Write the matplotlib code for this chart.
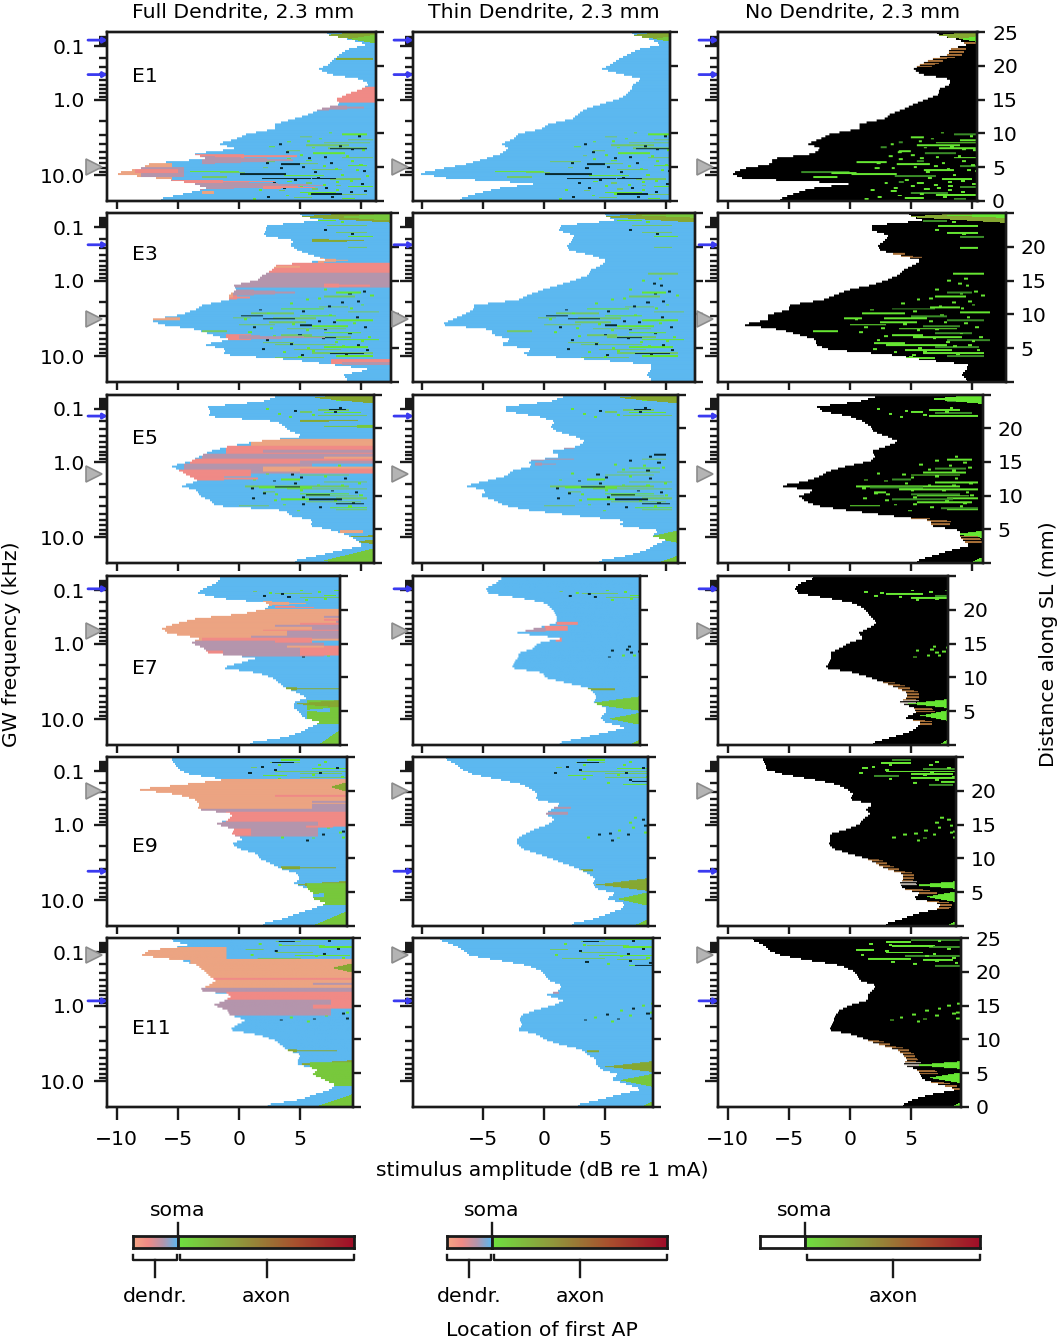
import numpy as np
import matplotlib
matplotlib.use("Agg")
import matplotlib.pyplot as plt
from matplotlib.colors import ListedColormap, LinearSegmentedColormap
from matplotlib.ticker import FixedLocator, FixedFormatter
from matplotlib.transforms import blended_transform_factory

W, H = 1062, 1339
ELECTRODES = ["E1", "E3", "E5", "E7", "E9", "E11"]
TITLES = ["Full Dendrite, 2.3 mm", "Thin Dendrite, 2.3 mm", "No Dendrite, 2.3 mm"]

# Threshold (dB re 1 mA) per band, from apex (25 mm, top) to base (0 mm, bottom)
E1_FULL = [7.2,9.1,10.5,8.9,8.3,7.8,7.4,6.5,7.5,10,10.7,10,8.9,8,8.3,6.7,5.8,4.5,3,3,.7,-.2,-1.7,-.2,-3.7,-2.7,-7.3,-8.1,-10.3,-6.4,-3.7,-2.6,-4.4,-6.4]
E1_THIN = [7.2,8.8,9.6,7.7,6.9,6.1,5.5,4.7,6.4,8,7.3,7.2,6.8,6.1,4.7,3.4,2.8,2.3,.4,-.2,-2.1,-2.5,-3.5,-2.9,-3.5,-4.8,-6.2,-8.4,-10.3,-7.8,-.6,-3.9,-5.5,-6.9]
E1_NONE = [7.1,8.8,9.6,8.1,8.1,6.6,5.8,5.2,5.8,8.2,8.2,7.3,7.3,6.3,5.2,4.4,3.3,2.8,.8,.8,-1.6,-2.4,-3.5,-2.4,-3,-6.3,-6.4,-8.7,-9.7,-8.7,.2,-3.3,-4.5,-5.7]
E3_FULL = [5,6.7,2.3,2.2,2,4.5,4.2,4.8,6.1,7.2,3.1,2.7,2,1.5,-.4,-.2,-.8,-.8,-2.9,-3.6,-4.8,-7.3,-6.3,-3.4,-2.3,-.7,-2.9,-1,-1.3,4.2,7.6,10.8,8.6,8.9]
E3_THIN = [5,5.8,1.4,1.2,2.5,2.3,1.9,2.1,3.9,5.1,4.7,3.8,3.6,2.5,1.2,-.2,-1.3,-2.1,-5.7,-5.8,-6.6,-7.6,-8.5,-4.3,-4.2,-2.7,-3.6,-.9,-2,3.9,8.8,8.8,8.4,8.8]
E3_NONE = [4.9,6,1.8,1.8,3.2,2.9,2.3,2.5,4,5.9,5.2,4.4,4,3,1.8,-.2,-1.2,-2.2,-4.9,-5,-6.7,-6.7,-8.9,-5.7,-4.2,-2.8,-2.8,-1.7,3.2,6,9.7,9.6,9.2,9.6]
E5_FULL = [3.1,2,-2.5,-2.3,-2.5,3.1,3.7,4.3,5.3,1.5,-.8,-2.3,-3.2,-3.9,-5.5,-4.8,-4.1,-3.3,-4.8,-3.4,-3.2,-2.3,-1.9,3.9,4.2,6.1,5.8,7.8,9,9.7,10.2,8.3,6.5,4.6]
E5_THIN = [1.7,.5,-3.1,-3.1,-.5,.9,.5,1,2.5,3.4,2.8,.5,1.4,-1.3,-1,-2.7,-3.1,-4.8,-6.5,-4.7,-5.2,-4,-3.2,-1,2.5,6.6,6.1,9.5,8.8,10,9,8.3,6.9,4.5]
E5_NONE = [2.2,.8,-2.7,-2.2,0,1.1,1.7,1.9,3,4,3,1.8,2.1,1.7,-.2,-1.7,-2.4,-3.5,-5.8,-2.8,-4.2,-3.7,-2.7,0,3.3,6.7,6.6,9,9,9.3,9.9,8.2,6.9,5.5]
E7_FULL = [-1.5,-1.9,-2.9,-3.4,-1.4,2.6,2.3,.5,-3.4,-5.1,-6.3,-5.8,-3.2,-3.9,-2.9,-2.5,1.5,.1,-1.4,1.5,2.8,3.3,3.8,4.8,5.6,4.5,4.5,5,5.3,6.7,5.8,5,3.7,.9]
E7_THIN = [-3.5,-4,-4.8,-4.6,-1.8,.1,.5,.9,1,.9,-.7,-2.4,1.4,-.5,-.9,-2.1,-2.2,-2.5,-2.7,-.2,.1,1.7,3.5,4,4.2,4,5,5,4.5,5,6.6,5,3.1,1.2]
E7_NONE = [-3,-4.1,-4.5,-4.2,-1.7,.4,1.1,1.5,1.9,2.2,1.5,.7,1.1,-.1,-.8,-1.6,-1.5,-1.7,-2,.4,1.7,2.8,3.9,4.7,4.7,4.1,5.2,5.5,4.5,5.9,5.5,4.8,3.4,1.9]
E9_FULL = [-5.5,-5.2,-4.9,-4,-1.1,-4.5,-8.4,-5.1,-3.6,-3.2,-3.4,-.4,-.8,-1.9,-.4,-.6,.4,-.6,0,1.5,1.7,2.7,3.4,4.8,5,4.5,5.6,6.1,6.1,7.2,6.1,4.8,3.7,2]
E9_THIN = [-8,-7.2,-6.7,-5.8,-3.7,-1.8,-1,-.5,-.7,1.4,.6,.1,.9,.4,-.7,-1.6,-2.2,-2.2,-1.8,-.5,.6,1.7,2.8,3.6,4.2,4,4.3,5.9,5.1,6.6,6.4,5.3,4.2,2.3]
E9_NONE = [-7.1,-6.9,-6.9,-5.4,-3,-1.1,-.2,.3,0,1.9,1.3,1.7,1.1,.8,-.2,-1.6,-1.6,-1.7,-1.3,0,1.4,2.2,3,4.3,4.4,4.1,4.4,5.8,5.2,7.4,7.3,5.5,4.4,3]
E11_FULL = [-5.5,-4.1,-7.4,-8,-4.7,-3.4,-2.9,-2.5,-1.9,-2.5,-3.3,-.6,-1.1,-2.1,-1,-.8,.5,-.2,-.8,1.5,2.8,3.4,3.8,5,4.8,4.8,6.4,6,6.9,7.8,7.5,6.1,5,2.3]
E11_THIN = [-8.5,-7.3,-6.6,-6.1,-3.7,-1.4,-.3,.1,.4,1.4,1.3,.1,1.6,.8,-.7,-1.8,-2,-1.8,-2.2,-.5,.1,1.4,3.1,3.6,4.3,4.3,4.7,6.1,5.5,6.9,8,6.1,4.6,2.8]
E11_NONE = [-7.9,-7,-6.6,-5.6,-3.3,-.8,.2,.6,.8,2.1,1.9,1.5,1.5,0,-.8,-1.2,-1.3,-1.5,-1.7,.3,1.4,2.5,3.9,4.4,4.7,4.4,5.5,5.8,6,7.4,8.8,6.6,5.2,4.4]

# Axon streaks: band, start dB, end dB
E1_STREAKS = [(20.5,8.5,10.5),(21,5,6),(21.6,9,11),(22,4,4.3),(22.2,7,10.8),(22.7,5.5,9),(23,2.5,3),(23.3,7.3,10.5),(23.8,4,5),(24.3,6.1,8.7),(24.8,3.2,3.5),(25.2,8.5,11),(25.8,5.5,6),(26,.5,3),(26.4,3.8,6.5),(26.8,9,10.5),(27.2,2,2.4),(27.6,6,8.5),(28,-4,0),(28.2,-1.5,.5),(28.4,.1,3.8),(28.8,3.7,7),(29.1,-3,-1),(29.5,7.5,10),(30,4,4.4),(30.3,5.5,6),(30.8,8,8.4),(31,9,11),(31.5,6,6.5),(31.8,3.3,3.8),(32.2,5,8),(32.6,7,10.5),(33.2,4.5,6),(33.4,8.5,9.5)]
E3_STREAKS = [(1.4,6,8),(2.4,7.2,10.5),(3.8,8,10.5),(4.6,9,11),(6.8,9,10.5),(12.1,8.5,11),(15.9,8,10),(16.7,7,9.5),(18.8,6.6,9),(19.2,3.5,7),(19.8,9,11.5),(20.1,1,4.5),(20.6,5,8),(21,-.5,1),(21.1,2.8,6.3),(21.5,8,11),(21.9,2.5,5.5),(22.4,0,3),(22.7,6,9),(23.2,4,8.8),(23.7,-3,-1),(24,7,10),(24.5,3.5,6),(24.9,5.2,9.2),(25.4,8,11.5),(26,2,4.5),(26.4,3,8),(26.9,7,10.6),(27.4,4.5,8.4),(28.1,6,11),(28.7,8,11),(29,3,7)]
E5_STREAKS = [(1.2,8,10),(3.1,6.5,9),(3.5,5,6),(3.6,7,10),(4.2,6.5,10.5),(13,8,10),(14.8,7,9.5),(15.6,6,9.5),(16.2,5,9),(17.1,3.5,5),(17.6,7,10.5),(18.5,.5,9),(18.7,1.7,6),(19,4,10.5),(19.6,2,3),(20,5,9),(20.4,5.5,9.8),(20.9,8,10.5),(21.1,3.5,8.5),(21.6,5.5,10),(22.4,0,2.5),(22.8,7.5,10.5),(23.2,8,10.5)]
E7_STREAKS = [(2.8,7.8,9.5),(3,1.2,1.5),(3.4,3,6),(3.8,7,8),(4.2,5,9)]
E9_STREAKS = [(.5,3.5,5),(1,2.6,5),(2,1,1.5),(2.2,6,9),(2.8,3,9),(3.2,5,8.5),(3.6,2,4),(4,5,9),(4.8,7.5,8.8),(5.4,6.5,8.5)]
E11_STREAKS = [(.2,5,9),(.6,3,5),(1.4,3.5,7),(1.7,6.5,9.4),(2.2,.5,2),(2.8,3,6),(3.4,4.5,9),(4,1.5,5),(4.2,6,8.5),(5.4,7,9.1)]

# Short black dashes (blue panels only)
E1_DASHES = [(28.5,.1,3.9),(29.4,1.9,5.9),(32.5,5.7,8.5),(29.4,6,8),(26.5,3.5,5),(23.4,7.5,10.5)]
E3_DASHES = [(20.6,.2,2),(21.2,2,4.6),(25,6,8),(28.2,7.5,10.3),(22.5,5,6)]
E5_DASHES = [(3,7.4,8.8),(18.6,3,5),(20.2,5.5,7.5),(21.1,5.8,8.5),(22,8,10.3),(12.1,9,10)]
E7_DASHES = [(.5,8.5,9.3)]
E9_DASHES = [(1,2.7,4.5),(4.8,7.2,8.8)]
E11_DASHES = [(.6,3.2,4.5),(5.4,7.5,9.4)]

# Specks: band, dB
E1_SPECKS = [(21.4,6.6),(22.5,3.3),(23.2,6),(23.5,9.2),(24.6,5),(25.1,7),(25.5,4),(26.2,7.5),(26.6,9.9),(27,5.2),(27.4,7.9),(27.9,10.2),(28.6,8.4),(29.3,6.4),(29.8,9.1),(30.2,2.8),(30.6,6.9),(31.2,3.6),(31.6,8),(31.9,10.3),(32.5,5.7),(33,2.3),
             (20.2,7.4),(20.9,9.8),(21.8,5.6),(22.9,8.2),(23.7,10.1),(24.1,3.9),(24.9,8.8),(25.3,5.7),(25.9,9.2),(26.3,2.2),(26.9,6.9),(27.3,3.4),(27.7,9.6),(28.1,6.2),(28.9,10.4),(29.6,4.5),(30.1,8),(30.4,10),(30.9,5),(31.3,7.1),(31.7,1.7),(32.1,9.1),(32.8,3.9),(33.1,7.6),(33.5,1.2)]
E3_SPECKS = [(13.5,8),(14.5,9.5),(15.2,7),(16.2,9),(17.3,5.5),(17.9,8.4),(18.4,10),(19.4,1.7),(20.4,7.4),(21.7,6.5),(22.1,9.4),(22.9,1.2),(23.5,5.5),(24.2,9),(24.7,2.8),(25.2,6.8),(25.7,10),(26.2,4.2),(26.7,8.5),(27.2,1.9),(27.7,6),(28.4,5.1),(13,9.4),(15.6,10.2),(1.6,8.4),(3.2,7),
             (17,6.5),(17.6,9.7),(18.1,4.2),(18.6,7.3),(19,9.1),(19.6,5.2),(20,2.3),(20.8,9.6),(21.3,.4),(21.8,7.7),(22.3,4.4),(22.8,10.3),(23,2.6),(23.4,7),(23.9,.8),(24.4,4.9),(24.8,10.6),(25.5,2.2),(25.9,7.9),(26.5,9.7),(27,5.6),(27.5,10.4),(27.9,3.6),(28.3,8.7),(28.9,4.9),(14,8.9),(16.5,10.8),(4,9.2)]
E5_SPECKS = [(3.8,3.2),(3.2,4.5),(4,6),(2.6,8.2),(14.2,8.1),(13.6,9.3),(15,6.4),(16,4.3),(16.5,7),(17.4,2.8),(18.2,6.4),(19.4,7.6),(20.1,3),(20.7,5.2),(21.4,7.8),(22.1,5.2),(22.5,9),(19.6,9.5),(17.8,9.8),(16.9,8.6),(14.6,9.7),(12.5,8.6),
             (2.9,2.2),(3.4,7.8),(4.4,4.1),(13.2,7),(14,5.7),(15.3,8.4),(15.9,2.2),(16.7,5),(17.2,1.2),(17.9,4.5),(18.3,8.4),(18.9,1),(19.3,5),(19.9,2),(20.3,9.9),(20.8,1.1),(21.3,2.9),(21.8,9.3),(22.2,3.6),(22.7,6.6),(23.4,4.8)]
E7_SPECKS = [(3.2,2.5),(3.5,3.5),(2.8,5),(4,4),(4.4,7),(15,7.6),(15.5,8.3),(14.6,6.6),(15.8,7.2),(16.2,5.2),(14.2,7.9),(15.2,7),(3,6.5),(3.9,2),(4.6,5.4),(14.8,5.4),(15.9,6.3),(14.1,6.8)]
E9_SPECKS = [(1.4,3.2),(2.4,2.9),(3.5,6),(3.1,6.6),(1.5,6.5),(2,8),(3.8,8.4),(4.4,7),(5,5.2),(4.9,8.6),(13,7),(12.4,8),(14,7.2),(15.5,6.8),(16.2,6),(16.6,5.5),(15,8.2),(14.8,8.5),(16,8.5),(1.8,1.8),(.8,7),(3,.8),(4.2,3.2),(13.6,8.2),(14.6,6.1),(15.4,4.4),(16.1,3.5),(15.2,5.3),(12,7.4)]
E11_SPECKS = [(1.2,3.2),(2.4,2.9),(3.5,6.2),(3.1,6.8),(1.5,6.5),(2,8),(3.8,8.4),(4.4,7),(5,5.2),(4.9,8.6),(13.5,8),(14,7.2),(15.5,7),(16.2,6),(16.6,5.5),(15,8.4),(14.8,8.7),(16,8.7),(1,1.6),(.4,7.2),(3.3,.9),(4.7,3.4),(14.4,6.2),(15.2,5.1),(15.9,4.1),(16.4,3.3),(13,8.8)]

# Regions of first-AP location: kind, band from, band to, dB from, dB to, shape
E1_FULL_Z = [("olive",-.5,2,6.5,12,"<"),("green",.2,2.6,9,12,"<"),("olive",5.2,5.5,8,11,"R"),("pink",11,14.2,7,12,"R"),("mauve",14.5,15.9,6,11,">"),("pink",24.5,25.5,-4,7,">"),("mauve",25,26.6,-3,5.5,">"),("salmon",26.4,29.8,-11,-5.5,"R"),("mauve",27.2,29.2,-8,-4.5,"R"),("pink",27.6,28.4,-8.5,-5,"R"),("mauve",29.7,32,-6.5,7.5,">"),("pink",29.7,30.5,-5.5,3,">"),("pink",30.9,31.6,2,7,">"),("salmon",32,32.5,-3,-2,"R")]
E1_THIN_Z = [("olive",-.5,2,6.5,12,"<"),("green",.2,2.6,9,12,"<")]
E1_NONE_Z = [("olive",-.5,2,6.5,12,"<"),("bright",.2,2.6,9,12,"<"),("brown",3,7,0,1.2,"E"),("brown",2,2.5,0,1,"E")]
E3_FULL_Z = [("olive",-.5,2,4.5,13,"<"),("green",0,1.6,8,13,"<"),("olive",5.2,5.9,6,11,">"),("salmon",9,10,6.5,9,">"),("pink",10,13.2,2,13,"R"),("mauve",12,15,-1,13,"R"),("salmon",10.6,10.9,2,5,"R"),("pink",14.2,15,7,12,">"),("mauve",15,17,-3,5.5,">"),("pink",16,18,-4,1.5,">"),("salmon",15,17,-2,-.5,"R"),("pink",24.5,25.5,-1,1,"R"),("mauve",24.6,25.5,0,8,">"),("pink",29.5,30.3,7.6,13,"R"),("mauve",30,30.5,8.5,13,"R"),("salmon",21,21.6,-7.5,-4.8,"R")]
E3_THIN_Z = [("olive",-.5,2,4.5,13,"<"),("green",0,1,8,13,"<")]
E3_NONE_Z = [("olive",-.5,2,4.5,13,"<"),("bright",0,1,8,13,"<"),("brown",8,9,0,1,"E")]
E5_FULL_Z = [("olive",-.5,2,6,11.5,"<"),("olive",5.1,5.6,5,11,">"),("green",6.2,6.8,7,11,"<"),("salmon",9,10.5,1,12,"R"),("pink",10.5,12,-1,12,"R"),("mauve",12,13,-3,12,"R"),("pink",13,14,-4,12,"R"),("mauve",14,16,-4.5,6,"R"),("pink",15.2,16.5,-5,1,"R"),("salmon",14.6,15.6,2,11.5,"R"),("pink",15,16,5,11.5,"R"),("pink",16.5,17.5,-4,3,">"),("mauve",11.2,11.7,2,12,"R"),("salmon",12.6,12.9,7,12,"R"),("mauve",13.4,14,5,12,"R"),("salmon",27.4,28,8.3,10.2,"R"),("olive",28.4,28.9,8.5,12,"<"),("olive",29,30.5,9.5,12,"<"),("green",31,36,7,11.2,"<")]
E5_THIN_Z = [("olive",-.5,2,6,11.5,"<"),("mauve",10.5,11.2,.5,2.8,">"),("mauve",12.8,13.4,-1.3,2.5,">"),("mauve",13.8,14.4,-.7,1,">"),("green",27.5,30,8.5,11,"<"),("green",32.5,36,9,11,"<")]
E5_NONE_Z = [("bright",0,2,6.5,11,"<"),("brown",25,26.3,0,1.6,"E"),("bright",27.5,29,8.5,11,"<"),("brown",28.6,30,0,1.5,"E"),("bright",32.7,36,9.5,11,"<")]
E7_FULL_Z = [("salmon",5,6,2,5.5,">"),("pink",6,6.5,3,7,">"),("salmon",6.6,13,-7,12,"R"),("mauve",8,8.3,7,12,"R"),("pink",8.6,9,7,12,"R"),("mauve",9,9.5,8,12,"R"),("pink",9.4,9.7,5,12,"R"),("mauve",9.8,10.2,3,12,"R"),("mauve",10,11,6,12,"R"),("pink",10.8,11,2,12,"R"),("mauve",11,12,4,12,"R"),("mauve",12,12.5,1,12,"R"),("pink",12.5,13.5,-3,6,"R"),("mauve",13,16.2,-4,3,"R"),("mauve",13.5,16.2,-3.5,7,"R"),("pink",14,16,5,12,"R"),("salmon",14.1,14.4,4,7,"R"),("pink",15,16.3,-3,-1.3,"R"),("olive",22.4,23,3,8.3,">"),("green",25,29.8,5.6,8.3,"R"),("olive",25,26.5,4.5,8.3,"<"),("blue",26.6,27.5,5,7.5,"<"),("green",31,37,6.5,8.3,"<")]
E7_THIN_Z = [("pink",9.2,9.8,1,2.7,"R"),("pink",10,11,0,1.9,"R"),("mauve",10.5,11.2,-2.4,.1,"R"),("pink",12.5,13.2,.9,1.4,"R"),("olive",22.6,23,3.5,8,">"),("green",24.2,27.2,3.5,7.9,"<"),("green",27.5,30,5.2,7.9,"<"),("green",32.8,36,6.5,7.9,"<")]
E7_NONE_Z = [("brown",21.5,25,0,1,"E"),("lgray",25,25.8,0,1.3,"E"),("bright",24.8,26.6,4.8,8.1,"<"),("brown",26.5,27.3,0,1.5,"E"),("bright",27,29.2,5.8,8.1,"<"),("brown",29,30,0,1,"E"),("bright",32.8,36,7,8.1,"<")]
E9_FULL_Z = [("salmon",4.5,10.5,-9,12,"R"),("olive",5,7,7.5,8.9,"<"),("pink",7.6,8,3,12,"R"),("mauve",8.8,9.1,6,12,"R"),("mauve",9.5,10.5,6,12,"R"),("mauve",10.5,12,-3.5,12,"R"),("pink",11,14,-1,12,"R"),("mauve",13,16,-2,6.5,"R"),("pink",13.7,14.2,5.5,11,">"),("pink",14.5,15.8,-1,1,"R"),("olive",22,22.6,3.5,8,">"),("olive",25,26.4,4,8.9,"<"),("green",25.4,29.8,5.6,8.9,"R"),("blue",27.4,28.3,5,7,"<"),("green",31,37,6,8.9,"<")]
E9_THIN_Z = [("mauve",10,10.4,.5,2.2,"R"),("mauve",11,11.5,.2,2,"R"),("olive",22.6,23,3,5,">"),("olive",24.4,27,4.3,8.6,"<"),("green",27.2,30,6,8.6,"<"),("green",32.6,36,7,8.6,"<")]
E9_NONE_Z = [("brown",20.5,25,0,.9,"E"),("lgray",25,25.8,0,1.3,"E"),("bright",25,26.6,5.2,8.9,"<"),("brown",26.6,27.5,0,1.5,"E"),("bright",27,29.3,6.2,8.9,"<"),("brown",29,30.5,0,1,"E"),("bright",32.8,36,7.5,8.9,"<")]
E11_FULL_Z = [("salmon",1.8,4.4,-9,-1,"R"),("salmon",4.3,10,-4,12,"R"),("olive",5,7,7.5,9.4,"<"),("pink",8,8.4,-3,12,"R"),("mauve",9,9.4,6,12,"R"),("mauve",10,11,-3.5,12,"R"),("pink",10.8,14,-1,12,"R"),("mauve",12.4,15.6,-2,7.5,"R"),("pink",13.5,14.2,6,12,"R"),("olive",22.4,23,3,8,">"),("olive",24.6,26.2,4.5,9.4,"<"),("green",25,29.8,5.8,9.4,"R"),("green",31.3,37,6,9.4,"<")]
E11_THIN_Z = [("mauve",10.8,11.2,0,2.5,">"),("olive",22.6,23,3.5,5.5,">"),("olive",24.8,27,5,9,"<"),("green",27.3,30,6.2,9,"<"),("green",32.8,36,7.5,9,"<")]
E11_NONE_Z = [("brown",20.5,25,0,.9,"E"),("lgray",25,25.8,0,1.3,"E"),("bright",24.8,26.4,5.2,9.3,"<"),("brown",26.4,27.3,0,1.5,"E"),("bright",27,29.3,6.5,9.3,"<"),("brown",29,30.5,0,1,"E"),("bright",32.8,36,8,9.3,"<")]

THRESHOLDS = [[E1_FULL,E1_THIN,E1_NONE],[E3_FULL,E3_THIN,E3_NONE],[E5_FULL,E5_THIN,E5_NONE],[E7_FULL,E7_THIN,E7_NONE],[E9_FULL,E9_THIN,E9_NONE],[E11_FULL,E11_THIN,E11_NONE]]
ZONES = [[E1_FULL_Z,E1_THIN_Z,E1_NONE_Z],[E3_FULL_Z,E3_THIN_Z,E3_NONE_Z],[E5_FULL_Z,E5_THIN_Z,E5_NONE_Z],[E7_FULL_Z,E7_THIN_Z,E7_NONE_Z],[E9_FULL_Z,E9_THIN_Z,E9_NONE_Z],[E11_FULL_Z,E11_THIN_Z,E11_NONE_Z]]
STREAKS = [E1_STREAKS,E3_STREAKS,E5_STREAKS,E7_STREAKS,E9_STREAKS,E11_STREAKS]
DASHES = [E1_DASHES,E3_DASHES,E5_DASHES,E7_DASHES,E9_DASHES,E11_DASHES]
SPECKS = [E1_SPECKS,E3_SPECKS,E5_SPECKS,E7_SPECKS,E9_SPECKS,E11_SPECKS]

# Electrode site (mm along SL) and neural best-place arrows (mm)
ELECTRODE_MM = [5.0, 9.3, 13.2, 16.9, 20.0, 22.5]
ARROW_MM = [[23.8, 18.7], [20.3], [21.8], [23.1], [8.1], [15.7]]

# Layout in reference pixels
ROW_Y = [(32,201),(213,382),(394.5,563),(576,745),(757,926),(938,1107)]
COL_LEFT = [107, 413, 718]
COL_ZERO = [238.7, 544, 849.7]
COL_RIGHT = [[376,670,977.5],[391,695,1006],[374,678,983],[340,640,948],[347,648,956],[353,653,961]]
PX_PER_DB = 12.2
LABEL_Y = [77, 255, 438, 669, 847, 1028]

PALETTE = {"white":"#ffffff","blue":"#5cb8f0","salmon":"#eca482","pink":"#f08a86","mauve":"#b495ac",
           "olive":"#86a832","green":"#78c83c","bright":"#66e632","mid":"#72c868","dark":"#0a2a30",
           "black":"#000000","brown":"#a87038","dgreen":"#3a8c28","lgray":"#b8b0a8"}
NAMES = list(PALETTE)
IDX = {n:i for i,n in enumerate(NAMES)}
CMAP = ListedColormap([PALETTE[n] for n in NAMES])

FS = 14.7
INK = "#1a1a1a"
plt.rcParams["font.family"] = "DejaVu Sans"
fig = plt.figure(figsize=(W/100, H/100), dpi=100)

def px_axes(x0, x1, y0, y1):
    return fig.add_axes([x0/W, 1-y1/H, (x1-x0)/W, (y1-y0)/H])

def f_to_mm(f):
    return 24.9 - 11.8*np.log10(np.asarray(f)*1000/165.4 + 0.88)

MAJOR_F = [0.1, 1.0, 10.0]
MINOR_F = [.04,.05,.06,.07,.08,.09,.2,.3,.4,.5,.6,.7,.8,.9,2,3,4,5,6,7,8,9]

def panel_matrix(thr, zones, streaks, dashes, specks, xlim, nx, col):
    ny = 170
    xs = xlim[0] + (np.arange(nx)+.5)*(xlim[1]-xlim[0])/nx
    rs = (np.arange(ny)+.5)/5.0
    # edge drawn as a stepped line through the band readings
    band_centres = np.arange(len(thr)) + .5
    step_rs = (np.arange(ny)//2*2 + 1)/5.0
    env = np.interp(step_rs, band_centres, thr)
    inside = xs[None,:] >= env[:,None]
    base = IDX["black"] if col == 2 else IDX["blue"]
    lab = np.where(inside, base, IDX["white"])
    def paint(r0, r1, a, b, name):
        i0, i1 = int(r0*5), max(int(r1*5), int(r0*5)+1)
        j = (xs >= a) & (xs <= b)
        sub = lab[i0:i1, :]
        sub[:, j] = np.where(sub[:, j] != IDX["white"], IDX[name], IDX["white"])
    for k, (r, a, b) in enumerate(streaks):
        if col == 2:
            paint(r, r+.4, a, b, "bright" if k % 3 else "dgreen")
        else:
            paint(r, r+.3, a, b, "mid" if k % 3 else "bright")
    if col != 2:
        for r, a, b in dashes:
            paint(r, r+.3, a, b, "dark")
    for k, (r, x) in enumerate(specks):
        if col == 2:
            paint(r, r+.4, x, x+.3, "bright")
        else:
            paint(r, r+.4, x, x+.25, "dark" if k % 2 else "bright")
    R, X = np.meshgrid(rs, xs, indexing="ij")
    ENV = env[:, None]
    for name, r0, r1, a, b, shape in zones:
        rc, h = (r0+r1)/2, (r1-r0)/2
        m = (R >= r0) & (R <= r1) & inside
        if shape == "E":      # thin rim along the edge, on alternate rows
            m &= (X <= ENV + (b-a)) & ((np.arange(ny)[:, None] % 3) != 0)
        else:
            m &= (X >= a) & (X <= b)
            if shape == ">":
                m &= np.abs(R-rc) <= h*(b-X)/(b-a)
            elif shape == "<":
                m &= np.abs(R-rc) <= h*(X-a)/(b-a)
        lab[m] = IDX[name]
    return lab

for row, (y0, y1) in enumerate(ROW_Y):
    for col in range(3):
        x0, x1 = COL_LEFT[col], COL_RIGHT[row][col]
        ax = px_axes(x0, x1, y0, y1)
        xlim = ((x0-COL_ZERO[col])/PX_PER_DB, (x1-COL_ZERO[col])/PX_PER_DB)
        lab = panel_matrix(THRESHOLDS[row][col], ZONES[row][col], STREAKS[row], DASHES[row], SPECKS[row], xlim, int(x1-x0), col)
        ax.imshow(lab, extent=[xlim[0], xlim[1], 0, 25], origin="upper", aspect="auto",
                  cmap=CMAP, vmin=-.5, vmax=len(NAMES)-.5, interpolation="antialiased", zorder=1)
        ax.set_xlim(*xlim); ax.set_ylim(0, 25)
        for s in ax.spines.values():
            s.set_linewidth(1.7); s.set_color(INK); s.set_zorder(5)
        xt = [t for t in [-10,-5,0,5,10] if xlim[0] < t < xlim[1]]
        if row == 5 and col == 1:
            xt = [-5,0,5]
        ax.set_xticks(xt)
        if row == 5:
            ax.set_xticklabels([str(t).replace("-", "\u2212") for t in xt], fontsize=FS)
            ax.tick_params(axis="x", length=9.4, width=1.7, pad=7, color=INK)
        else:
            ax.set_xticklabels([])
            ax.tick_params(axis="x", length=6, width=1.7, color=INK)
        ax.yaxis.set_major_locator(FixedLocator(f_to_mm(MAJOR_F)))
        ax.yaxis.set_minor_locator(FixedLocator(f_to_mm(MINOR_F)))
        if col == 0:
            ax.yaxis.set_major_formatter(FixedFormatter([str(f) for f in MAJOR_F]))
        else:
            ax.set_yticklabels([])
        ax.tick_params(axis="y", which="major", length=9.4, width=1.7, labelsize=FS, pad=6.5, color=INK)
        ax.tick_params(axis="y", which="minor", length=6, width=1.7, color=INK)
        ax2 = ax.twinx()
        ax2.set_ylim(0, 25)
        rt = [0,5,10,15,20,25]
        ax2.set_yticks(rt)
        if col == 2 and row in (0, 5):
            ax2.set_yticklabels([str(t) for t in rt], fontsize=FS)
        elif col == 2:
            ax2.set_yticklabels(["", "5", "10", "15", "20", ""], fontsize=FS)
        else:
            ax2.set_yticklabels([])
        ax2.tick_params(axis="y", length=6, width=1.7, pad=4.5, color=INK)
        for s in ax2.spines.values():
            s.set_linewidth(1.7); s.set_color(INK)
        tr = blended_transform_factory(ax.transAxes, ax.transData)
        fx = -13.5/(x1-x0)
        ax.plot([fx], [ELECTRODE_MM[row]], marker=">", ms=12, mfc="#b4b4b4", mec="#8c8c8c", mew=1.2,
                transform=tr, clip_on=False, zorder=6, ls="none")
        for a in ARROW_MM[row]:
            ax.annotate("", xy=(0.002, a), xycoords=tr, xytext=(-19/(x1-x0), a), textcoords=tr,
                        arrowprops=dict(arrowstyle="-|>,head_length=0.25,head_width=0.15", color="#3a3af0", lw=2, shrinkA=0, shrinkB=0),
                        annotation_clip=False, zorder=7)
        if row == 0:
            fig.text([243,544,853][col]/W, 1-13/H, TITLES[col], fontsize=FS, ha="center", va="center")
    fig.text(132/W, 1-LABEL_Y[row]/H, ELECTRODES[row], fontsize=FS, ha="left", va="center")

fig.text(12/W, 1-644/H, "GW frequency (kHz)", rotation=90, fontsize=FS, ha="center", va="center")
fig.text(1048/W, 1-644/H, "Distance along SL (mm)", rotation=90, fontsize=FS, ha="center", va="center")
fig.text(542/W, 1-1170/H, "stimulus amplitude (dB re 1 mA)", fontsize=FS, ha="center", va="center")
fig.text(542/W, 1-1330/H, "Location of first AP", fontsize=FS, ha="center", va="center")

# Location colourbars
DENDRITE_COLORS = ["#f4a684", "#f08a86", "#b495ac", "#5cb8f0"]
AXON_COLORS = ["#6ee040", "#8f9a3c", "#a8502e", "#a00c28"]
dcmap = LinearSegmentedColormap.from_list("d", DENDRITE_COLORS)
acmap = LinearSegmentedColormap.from_list("a", AXON_COLORS)
grad = np.linspace(0, 1, 256)[None, :]
BARS = [(133, 178, 354, True), (447, 492, 667, True), (760, 805, 980, False)]
overlay = fig.add_axes([0, 0, 1, 1]); overlay.set_xlim(0, W); overlay.set_ylim(H, 0); overlay.axis("off")
for l, m, r, has_d in BARS:
    a1 = px_axes(l, m, 1236, 1248)
    if has_d:
        a1.imshow(grad, cmap=dcmap, aspect="auto")
    a2 = px_axes(m, r, 1236, 1248)
    a2.imshow(grad, cmap=acmap, aspect="auto")
    for a in (a1, a2):
        a.set_xticks([]); a.set_yticks([])
        for s in a.spines.values():
            s.set_linewidth(2); s.set_color(INK)
    overlay.plot([m, m], [1223, 1248], color=INK, lw=1.7)
    overlay.text(m, 1210.5, "soma", fontsize=FS, ha="center", va="center")
    for a_, b_, txt, show in [(l, m-1.5, "dendr.", has_d), (m+1.5, r, "axon", True)]:
        if not show:
            continue
        c = (a_+b_)/2
        overlay.plot([a_, a_, b_, b_], [1255, 1260, 1260, 1255], color=INK, lw=1.7)
        overlay.plot([c, c], [1260, 1277], color=INK, lw=1.7)
        overlay.text(c, 1297, txt, fontsize=FS, ha="center", va="center")

fig.savefig("out.png", dpi=100, facecolor="white")
